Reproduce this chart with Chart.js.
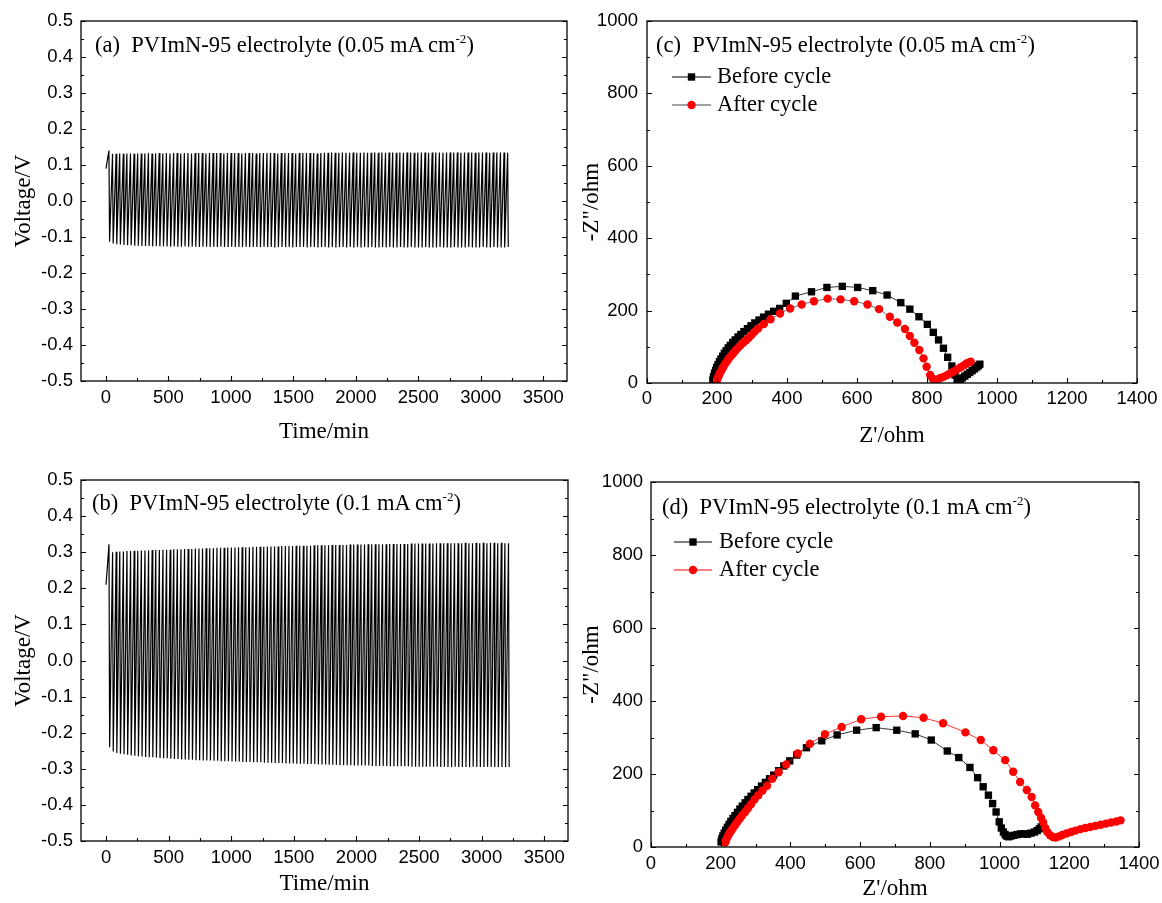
<!DOCTYPE html>
<html>
<head>
<meta charset="utf-8">
<title>PVImN-95 cycling and impedance</title>
<script src="https://cdn.jsdelivr.net/npm/chart.js@4.4.1/dist/chart.umd.min.js"></script>
<style>
  html, body { margin: 0; padding: 0; background: #fff; }
  #page { position: relative; width: 1162px; height: 903px; overflow: hidden; }
  #page canvas { position: absolute; }
  .note {
    position: absolute;
    font-family: "Liberation Serif", "Times New Roman", serif;
    font-size: 22.5px;
    line-height: 24px;
    white-space: pre;
    color: #000;
  }
  .note sup { font-size: 13px; line-height: 0; vertical-align: 9px; }
</style>
</head>
<body>
<div id="page">
  <canvas id="chartA" width="575" height="450" style="left:0;top:0"></canvas>
  <canvas id="chartB" width="575" height="453" style="left:0;top:450px"></canvas>
  <canvas id="chartC" width="587" height="450" style="left:575px;top:0"></canvas>
  <canvas id="chartD" width="587" height="453" style="left:575px;top:450px"></canvas>
  <div class="note" style="left:95px;top:33px">(a)  PVImN-95 electrolyte (0.05 mA cm<sup>-2</sup>)</div>
  <div class="note" style="left:92px;top:491px">(b)  PVImN-95 electrolyte (0.1 mA cm<sup>-2</sup>)</div>
  <div class="note" style="left:656px;top:33px">(c)  PVImN-95 electrolyte (0.05 mA cm<sup>-2</sup>)</div>
  <div class="note" style="left:662px;top:495px">(d)  PVImN-95 electrolyte (0.1 mA cm<sup>-2</sup>)</div>
</div>
<script>
// one charge + discharge pair per array entry
const cycleMinutes = 28.75;
// share of a cycle spent climbing to the upper voltage
const riseShare = 0.82;

const startVoltA = 0.09;
const upperVoltA = [
  0.140, 0.131, 0.131, 0.132, 0.131, 0.132, 0.132, 0.131, 0.132, 0.132,
  0.132, 0.133, 0.132, 0.132, 0.133, 0.132, 0.133, 0.132, 0.133, 0.133,
  0.132, 0.133, 0.133, 0.132, 0.133, 0.133, 0.133, 0.132, 0.133, 0.133,
  0.133, 0.133, 0.132, 0.133, 0.133, 0.133, 0.133, 0.132, 0.133, 0.133,
  0.133, 0.132, 0.133, 0.133, 0.133, 0.133, 0.133, 0.132, 0.133, 0.133,
  0.133, 0.133, 0.132, 0.133, 0.133, 0.133, 0.133, 0.133, 0.132, 0.133,
  0.134, 0.134, 0.135, 0.134, 0.134, 0.135, 0.134, 0.134, 0.135, 0.134,
  0.134, 0.135, 0.134, 0.134, 0.135, 0.134, 0.135, 0.134, 0.135, 0.135,
  0.134, 0.135, 0.134, 0.135, 0.135, 0.134, 0.135, 0.135, 0.135, 0.134,
  0.135, 0.135, 0.135, 0.134, 0.135, 0.135, 0.135, 0.135, 0.134, 0.135,
  0.135, 0.135, 0.134, 0.135, 0.135, 0.135, 0.134, 0.135, 0.135, 0.135,
  0.135, 0.134
];
const lowerVoltA = [
  -0.113, -0.118, -0.120, -0.121, -0.122, -0.123, -0.123, -0.124, -0.124, -0.125,
  -0.125, -0.125, -0.126, -0.125, -0.126, -0.126, -0.126, -0.127, -0.126, -0.127,
  -0.127, -0.126, -0.127, -0.127, -0.127, -0.128, -0.127, -0.127, -0.128, -0.127,
  -0.128, -0.127, -0.128, -0.128, -0.127, -0.128, -0.128, -0.128, -0.127, -0.128,
  -0.128, -0.128, -0.128, -0.127, -0.128, -0.128, -0.129, -0.128, -0.128, -0.128,
  -0.128, -0.129, -0.128, -0.128, -0.128, -0.129, -0.128, -0.128, -0.129, -0.128,
  -0.128, -0.129, -0.128, -0.129, -0.128, -0.128, -0.129, -0.128, -0.129, -0.128,
  -0.129, -0.128, -0.129, -0.128, -0.129, -0.129, -0.128, -0.129, -0.128, -0.129,
  -0.129, -0.128, -0.129, -0.129, -0.128, -0.129, -0.129, -0.129, -0.128, -0.129,
  -0.129, -0.129, -0.128, -0.129, -0.129, -0.129, -0.128, -0.129, -0.129, -0.129,
  -0.128, -0.129, -0.129, -0.129, -0.128, -0.129, -0.129, -0.128, -0.129, -0.129,
  -0.129, -0.128
];

const startVoltB = 0.21;
const upperVoltB = [
  0.322, 0.300, 0.301, 0.302, 0.302, 0.303, 0.303, 0.304, 0.304, 0.305,
  0.305, 0.305, 0.306, 0.306, 0.306, 0.307, 0.307, 0.307, 0.308, 0.308,
  0.308, 0.309, 0.309, 0.309, 0.310, 0.310, 0.310, 0.311, 0.311, 0.311,
  0.312, 0.312, 0.312, 0.313, 0.313, 0.313, 0.314, 0.314, 0.314, 0.314,
  0.315, 0.315, 0.315, 0.315, 0.316, 0.316, 0.316, 0.316, 0.317, 0.317,
  0.317, 0.317, 0.318, 0.318, 0.318, 0.318, 0.318, 0.319, 0.319, 0.319,
  0.319, 0.319, 0.320, 0.320, 0.320, 0.320, 0.320, 0.321, 0.321, 0.321,
  0.321, 0.321, 0.322, 0.322, 0.322, 0.322, 0.322, 0.322, 0.323, 0.323,
  0.323, 0.323, 0.323, 0.323, 0.324, 0.324, 0.324, 0.324, 0.324, 0.324,
  0.324, 0.325, 0.325, 0.325, 0.325, 0.325, 0.325, 0.325, 0.325, 0.326,
  0.325, 0.325, 0.326, 0.325, 0.326, 0.325, 0.326, 0.326, 0.325, 0.326,
  0.325, 0.325
];
const lowerVoltB = [
  -0.240, -0.252, -0.256, -0.258, -0.260, -0.261, -0.263, -0.264, -0.265, -0.266,
  -0.267, -0.268, -0.268, -0.269, -0.270, -0.271, -0.271, -0.272, -0.273, -0.273,
  -0.274, -0.274, -0.275, -0.275, -0.276, -0.276, -0.277, -0.277, -0.277, -0.278,
  -0.278, -0.279, -0.279, -0.279, -0.280, -0.280, -0.280, -0.281, -0.281, -0.281,
  -0.282, -0.282, -0.282, -0.283, -0.283, -0.283, -0.284, -0.284, -0.284, -0.285,
  -0.285, -0.285, -0.286, -0.286, -0.286, -0.287, -0.287, -0.287, -0.288, -0.288,
  -0.288, -0.289, -0.289, -0.289, -0.290, -0.290, -0.290, -0.290, -0.291, -0.291,
  -0.291, -0.291, -0.291, -0.292, -0.292, -0.292, -0.292, -0.292, -0.293, -0.293,
  -0.293, -0.293, -0.293, -0.293, -0.294, -0.294, -0.294, -0.294, -0.294, -0.294,
  -0.294, -0.294, -0.295, -0.294, -0.295, -0.295, -0.294, -0.295, -0.295, -0.295,
  -0.295, -0.294, -0.295, -0.295, -0.295, -0.294, -0.295, -0.295, -0.295, -0.295,
  -0.295, -0.295
];

// Nyquist data, Z' and -Z'' in ohm
const beforeReC = [188, 190, 193, 196, 199, 203, 207, 211, 216, 221, 226, 232, 238, 245, 252, 260, 268, 277, 287, 297,
  308, 320, 333, 347, 362, 379, 398, 424, 470, 514, 558, 602, 645, 686, 725, 751, 777, 801, 818, 833,
  847, 859, 871, 880, 886, 890, 895, 901, 908, 915, 922, 929, 936, 942, 947, 951];
const beforeImC = [8, 18, 27, 35, 43, 51, 59, 66, 74, 82, 89, 97, 104, 112, 119, 127, 134, 142, 150, 158,
  166, 174, 182, 190, 198, 206, 220, 240, 252, 264, 267, 264, 255, 243, 222, 204, 183, 162, 140, 119,
  96, 71, 47, 22, 10, 7, 10, 14, 19, 24, 29, 34, 39, 44, 48, 52];
const afterReC = [200, 202, 205, 208, 212, 216, 220, 225, 230, 235, 241, 247, 253, 260, 267, 275, 283, 291, 299, 308,
  318, 334, 353, 380, 409, 442, 477, 516, 553, 592, 630, 663, 694, 715, 737, 751, 764, 778, 790, 799,
  809, 816, 823, 830, 838, 847, 856, 865, 875, 885, 895, 904, 913, 920, 925];
const afterImC = [8, 14, 20, 27, 34, 41, 48, 55, 62, 69, 76, 83, 90, 97, 104, 111, 118, 125, 133, 142,
  151, 163, 176, 192, 206, 217, 226, 233, 231, 226, 217, 204, 183, 167, 149, 130, 111, 91, 68, 45,
  22, 12, 7, 10, 14, 17, 21, 26, 31, 37, 43, 48, 54, 57, 59];

const beforeReD = [201, 203, 206, 210, 214, 219, 224, 229, 235, 241, 248, 255, 262, 270, 278, 287, 296, 306, 317, 328,
  340, 352, 366, 381, 398, 418, 446, 490, 534, 590, 646, 705, 758, 804, 850, 883, 915, 937, 953, 968,
  980, 990, 999, 1005, 1011, 1016, 1020, 1026, 1033, 1041, 1050, 1060, 1070, 1080, 1090, 1100, 1108, 1114, 1119];
const beforeImD = [14, 22, 30, 38, 46, 54, 62, 70, 78, 86, 95, 104, 112, 121, 130, 139, 148, 157, 167, 177,
  187, 197, 209, 222, 236, 252, 272, 291, 307, 320, 327, 320, 310, 293, 263, 245, 218, 190, 165, 142,
  119, 96, 69, 52, 41, 34, 30, 28, 30, 32, 34, 36, 36, 35, 38, 41, 45, 50, 55];
const afterReD = [213, 215, 218, 222, 226, 231, 236, 242, 248, 255, 262, 270, 278, 287, 297, 308, 320, 333, 348, 366,
  388, 421, 456, 499, 547, 603, 660, 723, 782, 838, 902, 946, 982, 1016, 1039, 1059, 1078, 1092, 1102, 1111,
  1119, 1125, 1131, 1137, 1145, 1153, 1161, 1170, 1180, 1192, 1205, 1218, 1232, 1246, 1260, 1275, 1290, 1305, 1320, 1335, 1347];
const afterImD = [12, 18, 25, 32, 39, 46, 53, 61, 69, 78, 87, 96, 106, 117, 130, 142, 155, 168, 187, 205,
  226, 256, 283, 309, 329, 350, 357, 359, 354, 339, 314, 293, 265, 238, 206, 178, 156, 137, 114, 96,
  80, 67, 52, 41, 32, 27, 26, 29, 33, 37, 41, 45, 49, 52, 55, 58, 61, 64, 67, 70, 73];

const timeTicks = [0, 500, 1000, 1500, 2000, 2500, 3000, 3500];
const timeMinor = [250, 750, 1250, 1750, 2250, 2750, 3250];
const voltTicks = [-0.5, -0.4, -0.3, -0.2, -0.1, 0, 0.1, 0.2, 0.3, 0.4, 0.5];
const voltMinor = [-0.45, -0.35, -0.25, -0.15, -0.05, 0.05, 0.15, 0.25, 0.35, 0.45];
const zReTicks = [0, 200, 400, 600, 800, 1000, 1200, 1400];
const zReMinor = [100, 300, 500, 700, 900, 1100, 1300];
const zImTicks = [0, 200, 400, 600, 800, 1000];
const zImMinor = [100, 300, 500, 700, 900];

const serif = '"Liberation Serif", "Times New Roman", serif';
const sans = '"Liberation Sans", Arial, sans-serif';

const cyclePoints = (start, upper, lower) => {
    const pts = [{ x: 0, y: start }];
    upper.forEach((u, i) => {
        pts.push({ x: (i + riseShare) * cycleMinutes, y: u });
        pts.push({ x: (i + 1) * cycleMinutes, y: lower[i] });
    });
    return pts;
};

const pairUp = (re, im) => re.map((v, i) => ({ x: v, y: im[i] }));

const makeAxis = (cfg) => ({
    type: 'linear',
    min: cfg.min,
    max: cfg.max,
    grid: { display: false, drawTicks: false },
    border: { display: false },
    ticks: {
        padding: cfg.tickPad,
        color: '#000',
        autoSkip: false,
        maxRotation: 0,
        font: { family: sans, size: 18.5 },
        callback: cfg.format
    },
    title: {
        display: true,
        text: cfg.title,
        color: '#000',
        font: { family: serif, size: 23 },
        padding: cfg.titlePad
    },
    afterBuildTicks: (scale) => {
        scale.ticks = cfg.ticks.map(v => ({ value: v }));
    },
    afterFit: (scale) => {
        if (scale.isHorizontal()) {
            scale.height = cfg.size;
            scale.paddingLeft = 0;
            scale.paddingRight = 0;
        } else {
            scale.width = cfg.size;
            scale.paddingTop = 0;
            scale.paddingBottom = 0;
        }
    }
});

// box round the plot with inward ticks on left, right and bottom
const framePlugin = {
    id: 'frame',
    afterDraw(chart, args, opts) {
        const { ctx, chartArea: a, scales: { x, y } } = chart;
        ctx.save();
        ctx.strokeStyle = '#000';
        ctx.lineWidth = 1.3;
        ctx.strokeRect(a.left, a.top, a.right - a.left, a.bottom - a.top);
        ctx.lineWidth = 1.1;
        ctx.beginPath();
        const xMarks = (vals, len) => vals.forEach(v => {
            const px = Math.round(x.getPixelForValue(v)) + 0.5;
            ctx.moveTo(px, a.bottom);
            ctx.lineTo(px, a.bottom - len);
        });
        const yMarks = (vals, len) => vals.forEach(v => {
            const py = Math.round(y.getPixelForValue(v)) + 0.5;
            ctx.moveTo(a.left, py);
            ctx.lineTo(a.left + len, py);
            ctx.moveTo(a.right, py);
            ctx.lineTo(a.right - len, py);
        });
        xMarks(opts.xMajor, 5);
        xMarks(opts.xMinor, 3);
        yMarks(opts.yMajor, 5);
        yMarks(opts.yMinor, 3);
        ctx.stroke();
        ctx.restore();
    }
};

// legend rows drawn as line-marker-line samples
const sampleLegend = {
    id: 'sampleLegend',
    afterDatasetsDraw(chart, args, opts) {
        if (!opts.rows) return;
        const ctx = chart.ctx;
        ctx.save();
        chart.data.datasets.forEach((ds, i) => {
            const y = opts.rows[i];
            const mx = (opts.lineFrom + opts.lineTo) / 2;
            ctx.strokeStyle = ds.borderColor;
            ctx.lineWidth = 1;
            ctx.beginPath();
            ctx.moveTo(opts.lineFrom, y);
            ctx.lineTo(opts.lineTo, y);
            ctx.stroke();
            ctx.fillStyle = ds.pointBackgroundColor;
            if (ds.pointStyle === 'rect') {
                const h = ds.pointRadius * Math.SQRT1_2;
                ctx.fillRect(mx - h, y - h, 2 * h, 2 * h);
            } else {
                ctx.beginPath();
                ctx.arc(mx, y, ds.pointRadius, 0, Math.PI * 2);
                ctx.fill();
            }
            ctx.fillStyle = '#000';
            ctx.font = '22.5px ' + serif;
            ctx.textBaseline = 'middle';
            ctx.textAlign = 'left';
            ctx.fillText(ds.label, opts.textX, y);
        });
        ctx.restore();
    }
};

const baseOptions = (padding, scales, pluginOpts) => ({
    responsive: false,
    animation: false,
    events: [],
    layout: { padding },
    scales,
    plugins: Object.assign({ legend: { display: false }, tooltip: { enabled: false } }, pluginOpts)
});

const voltagePanel = (id, start, upper, lower, layout) => {
    new Chart(document.getElementById(id), {
        type: 'scatter',
        data: {
            datasets: [{
                data: cyclePoints(start, upper, lower),
                showLine: true,
                borderColor: '#000',
                borderWidth: 1.2,
                pointRadius: 0
            }]
        },
        options: baseOptions(
            { left: 0, right: layout.right, top: layout.top, bottom: 0 },
            {
                x: makeAxis({ min: -200, max: 3690, ticks: timeTicks, title: 'Time/min', size: layout.xSize,
                    tickPad: 6, titlePad: { top: 0, bottom: layout.xTitlePad }, format: v => String(v) }),
                y: makeAxis({ min: -0.5, max: 0.5, ticks: voltTicks, title: 'Voltage/V', size: 81,
                    tickPad: 8, titlePad: { top: 10, bottom: 0 }, format: v => v.toFixed(1) })
            },
            { frame: { xMajor: timeTicks, xMinor: timeMinor, yMajor: voltTicks, yMinor: voltMinor } }
        ),
        plugins: [framePlugin]
    });
};

const nyquistPanel = (id, before, after, layout) => {
    new Chart(document.getElementById(id), {
        type: 'scatter',
        data: {
            datasets: [{
                label: 'Before cycle',
                data: before,
                showLine: true,
                order: 2,
                borderColor: '#000',
                borderWidth: 0.8,
                pointStyle: 'rect',
                pointRadius: 5.2,
                pointBackgroundColor: '#000',
                pointBorderWidth: 0
            }, {
                label: 'After cycle',
                data: after,
                showLine: true,
                order: 1,
                borderColor: layout.afterLine,
                borderWidth: 0.8,
                pointStyle: 'circle',
                pointRadius: 4.2,
                pointBackgroundColor: '#ff0000',
                pointBorderWidth: 0
            }]
        },
        options: baseOptions(
            { left: 0, right: layout.right, top: layout.top, bottom: 0 },
            {
                x: makeAxis({ min: 0, max: 1400, ticks: zReTicks, title: "Z'/ohm", size: layout.xSize,
                    tickPad: layout.xTickPad, titlePad: { top: 0, bottom: 0 }, format: v => String(v) }),
                y: makeAxis({ min: 0, max: 1000, ticks: zImTicks, title: '-Z"/ohm', size: layout.ySize,
                    tickPad: layout.yTickPad, titlePad: { top: 3, bottom: 0 }, format: v => String(v) })
            },
            {
                frame: { xMajor: zReTicks, xMinor: zReMinor, yMajor: zImTicks, yMinor: zImMinor },
                sampleLegend: layout.legend
            }
        ),
        plugins: [framePlugin, sampleLegend]
    });
};

document.addEventListener('DOMContentLoaded', () => {
    voltagePanel('chartA', startVoltA, upperVoltA, lowerVoltA, { right: 8, top: 21, xSize: 69, xTitlePad: 4 });
    voltagePanel('chartB', startVoltB, upperVoltB, lowerVoltB, { right: 7, top: 30, xSize: 62, xTitlePad: 5 });

    nyquistPanel('chartC', pairUp(beforeReC, beforeImC), pairUp(afterReC, afterImC),
        { right: 25, top: 21, xSize: 67, ySize: 72, xTickPad: 5, yTickPad: 9, afterLine: '#444',
          legend: { rows: [77, 105], lineFrom: 97, lineTo: 136, textX: 142 } });
    nyquistPanel('chartD', pairUp(beforeReD, beforeImD), pairUp(afterReD, afterImD),
        { right: 23, top: 32, xSize: 56, ySize: 76, xTickPad: 6, yTickPad: 8, afterLine: '#ff0000',
          legend: { rows: [92, 120], lineFrom: 99, lineTo: 137, textX: 144 } });
});
</script>
</body>
</html>
